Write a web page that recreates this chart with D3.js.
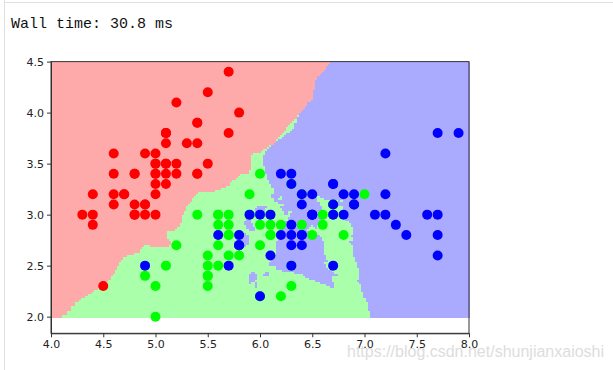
<!DOCTYPE html>
<html>
<head>
<meta charset="utf-8">
<script src="https://cdn.jsdelivr.net/npm/d3@7"></script>
<style>
  body { margin: 0; background: #fff; }
  svg text { font-family: "DejaVu Sans", sans-serif; }
</style>
</head>
<body>
<svg id="chart" width="613" height="370"></svg>
<script>
// iris sepal length / sepal width, one list per class
const setosa = [
  [5.1,3.5],[4.9,3.0],[4.7,3.2],[4.6,3.1],[5.0,3.6],[5.4,3.9],[4.6,3.4],[5.0,3.4],[4.4,2.9],[4.9,3.1],
  [5.4,3.7],[4.8,3.4],[4.8,3.0],[4.3,3.0],[5.8,4.0],[5.7,4.4],[5.4,3.9],[5.1,3.5],[5.7,3.8],[5.1,3.8],
  [5.4,3.4],[5.1,3.7],[4.6,3.6],[5.1,3.3],[4.8,3.4],[5.0,3.0],[5.0,3.4],[5.2,3.5],[5.2,3.4],[4.7,3.2],
  [4.8,3.1],[5.4,3.4],[5.2,4.1],[5.5,4.2],[4.9,3.1],[5.0,3.2],[5.5,3.5],[4.9,3.6],[4.4,3.0],[5.1,3.4],
  [5.0,3.5],[4.5,2.3],[4.4,3.2],[5.0,3.5],[5.1,3.8],[4.8,3.0],[5.1,3.8],[4.6,3.2],[5.3,3.7],[5.0,3.3]
];
const versicolor = [
  [7.0,3.2],[6.4,3.2],[6.9,3.1],[5.5,2.3],[6.5,2.8],[5.7,2.8],[6.3,3.3],[4.9,2.4],[6.6,2.9],[5.2,2.7],
  [5.0,2.0],[5.9,3.0],[6.0,2.2],[6.1,2.9],[5.6,2.9],[6.7,3.1],[5.6,3.0],[5.8,2.7],[6.2,2.2],[5.6,2.5],
  [5.9,3.2],[6.1,2.8],[6.3,2.5],[6.1,2.8],[6.4,2.9],[6.6,3.0],[6.8,2.8],[6.7,3.0],[6.0,2.9],[5.7,2.6],
  [5.5,2.4],[5.5,2.4],[5.8,2.7],[6.0,2.7],[5.4,3.0],[6.0,3.4],[6.7,3.1],[6.3,2.3],[5.6,3.0],[5.5,2.5],
  [5.5,2.6],[6.1,3.0],[5.8,2.6],[5.0,2.3],[5.6,2.7],[5.7,3.0],[5.7,2.9],[6.2,2.9],[5.1,2.5],[5.7,2.8]
];
const virginica = [
  [6.3,3.3],[5.8,2.7],[7.1,3.0],[6.3,2.9],[6.5,3.0],[7.6,3.0],[4.9,2.5],[7.3,2.9],[6.7,2.5],[7.2,3.6],
  [6.5,3.2],[6.4,2.7],[6.8,3.0],[5.7,2.5],[5.8,2.8],[6.4,3.2],[6.5,3.0],[7.7,3.8],[7.7,2.6],[6.0,2.2],
  [6.9,3.2],[5.6,2.8],[7.7,2.8],[6.3,2.7],[6.7,3.3],[7.2,3.2],[6.2,2.8],[6.1,3.0],[6.4,2.8],[7.2,3.0],
  [7.4,2.8],[7.9,3.8],[6.4,2.8],[6.3,2.8],[6.1,2.6],[7.7,3.0],[6.3,3.4],[6.4,3.1],[6.0,3.0],[6.9,3.1],
  [6.7,3.1],[6.9,3.1],[5.8,2.7],[6.8,3.2],[6.7,3.3],[6.7,3.0],[6.3,2.5],[6.5,3.0],[6.2,3.4],[5.9,3.0]
];
const classes = [setosa, versicolor, virginica];
const lightColors = ["#FFAAAA", "#AAFFAA", "#AAAAFF"];
const boldColors = ["#FF0000", "#00FF00", "#0000FF"];
const xTicks = [4.0, 4.5, 5.0, 5.5, 6.0, 6.5, 7.0, 7.5, 8.0];
const yTicks = [2.0, 2.5, 3.0, 3.5, 4.0, 4.5];
const K = 5;
const step = 0.02;

const svg = d3.select("#chart");

// notebook cell frame
svg.append("line").attr("x1", 4.5).attr("x2", 4.5).attr("y1", 0).attr("y2", 370)
  .attr("stroke", "#e0e0e0");
svg.append("line").attr("x1", 4).attr("x2", 613).attr("y1", 2.5).attr("y2", 2.5)
  .attr("stroke", "#e0e0e0");

svg.append("text").attr("x", 11).attr("y", 28)
  .style("font-family", "'Liberation Mono', monospace").style("font-size", "15px")
  .attr("fill", "#111").text("Wall time: 30.8 ms");

const x = d3.scaleLinear().domain([4.0, 8.0]).range([51, 469]);
const y = d3.scaleLinear().domain([1.837, 4.5]).range([333.3, 61.6]);

// training set
const train = [];
classes.forEach((pts, c) => pts.forEach(p => train.push({x: p[0], y: p[1], c: c})));

function predict(px, py) {
  const d = train.map((t, i) => ({i: i, d: (t.x - px) ** 2 + (t.y - py) ** 2}));
  d.sort((a, b) => a.d - b.d || a.i - b.i);
  const votes = [0, 0, 0];
  for (let j = 0; j < K; j++) votes[train[d[j].i].c]++;
  let best = 0;
  for (let c = 1; c < 3; c++) if (votes[c] > votes[best]) best = c;
  return best;
}

// decision regions, merged into runs per row
const gx = d3.range(0, Math.round((8.0 - 4.0) / step) + 1).map(i => 4.0 + i * step);
const gy = d3.range(0, Math.round((4.5 - 2.0) / step) + 1).map(i => 2.0 + i * step);
const runs = [];
gy.forEach(yv => {
  let start = 0, cur = predict(gx[0], yv);
  for (let i = 1; i <= gx.length; i++) {
    const c = i < gx.length ? predict(gx[i], yv) : -1;
    if (c !== cur) {
      runs.push({x0: Math.max(4.0, gx[start] - step / 2), x1: Math.min(8.0, gx[i - 1] + step / 2),
                 y0: Math.max(2.0, yv - step / 2), y1: Math.min(4.5, yv + step / 2), c: cur});
      start = i; cur = c;
    }
  }
});

svg.append("g").attr("shape-rendering", "crispEdges")
  .selectAll("rect").data(runs).join("rect")
  .attr("x", d => x(d.x0)).attr("width", d => x(d.x1) - x(d.x0) + 0.5)
  .attr("y", d => y(d.y1)).attr("height", d => y(d.y0) - y(d.y1) + 1)
  .attr("fill", d => lightColors[d.c]);

svg.append("g").selectAll("circle").data(train).join("circle")
  .attr("cx", d => x(d.x)).attr("cy", d => y(d.y)).attr("r", 5)
  .attr("fill", d => boldColors[d.c]);

// axes
const xAxis = svg.append("g").attr("transform", "translate(0,333.3)")
  .call(d3.axisBottom(x).tickValues(xTicks).tickFormat(d3.format(".1f")).tickSize(4).tickSizeOuter(0));
const yAxis = svg.append("g").attr("transform", "translate(51,0)")
  .call(d3.axisLeft(y).tickValues(yTicks).tickFormat(d3.format(".1f")).tickSize(4).tickSizeOuter(0));
[xAxis, yAxis].forEach(a => {
  a.selectAll("text").style("font-size", "11px").attr("fill", "#222");
  a.selectAll("line").attr("stroke", "#333");
  a.select(".domain").attr("stroke", "#333");
});
svg.append("rect").attr("x", 51).attr("y", 61.6).attr("width", 418).attr("height", 333.3 - 61.6)
  .attr("fill", "none").attr("stroke", "#333");

svg.append("text").attr("x", 347).attr("y", 357)
  .style("font-family", "'Liberation Sans', sans-serif").style("font-size", "16px")
  .attr("fill", "#d8d8d8").attr("opacity", 0.85).text("https://blog.csdn.net/shunjianxaioshi");
</script>
</body>
</html>
